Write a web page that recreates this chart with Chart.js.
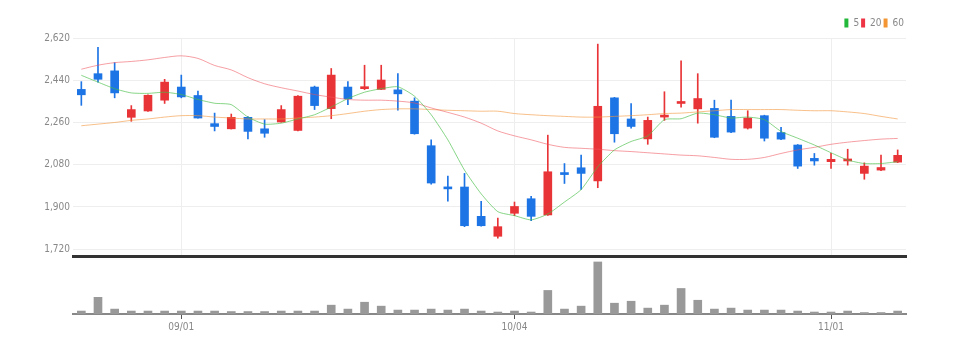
<!DOCTYPE html>
<html>
<head>
<meta charset="utf-8">
<script src="https://cdn.jsdelivr.net/npm/chart.js@4/dist/chart.umd.min.js"></script>
<style>
  html, body { margin: 0; padding: 0; background: #fff; }
  #wrap { position: relative; width: 958px; height: 354px; }
  #pricebox { position: absolute; left: 0; top: 0; width: 958px; height: 265px; }
  #volbox { position: absolute; left: 0; top: 256px; width: 958px; height: 98px; }
</style>
</head>
<body>
<div id="wrap">
  <div id="pricebox"><canvas id="price"></canvas></div>
  <div id="volbox"><canvas id="vol"></canvas></div>
</div>
<script>
// 일자 (2022.08.24 ~ 2022.11.07)
const dates = [
  '08/24', '08/25', '08/26', '08/29', '08/30', '08/31', '09/01', '09/02', '09/05', '09/06',
  '09/07', '09/08', '09/13', '09/14', '09/15', '09/16', '09/19', '09/20', '09/21', '09/22',
  '09/23', '09/26', '09/27', '09/28', '09/29', '09/30', '10/04', '10/05', '10/06', '10/07',
  '10/11', '10/12', '10/13', '10/14', '10/17', '10/18', '10/19', '10/20', '10/21', '10/24',
  '10/25', '10/26', '10/27', '10/28', '10/31', '11/01', '11/02', '11/03', '11/04', '11/07'
];
const tickDates = ['09/01', '10/04', '11/01'];
const yTicks = [1720, 1900, 2080, 2260, 2440, 2620];

const opens = [
  2401, 2468, 2480, 2282, 2309, 2355, 2411, 2375, 2255, 2233,
  2282, 2233, 2262, 2226, 2411, 2319, 2411, 2404, 2401, 2399,
  2351, 2161, 1985, 1985, 1860, 1775, 1873, 1935, 1866, 2044,
  2067, 2011, 2365, 2275, 2190, 2283, 2341, 2318, 2320, 2286,
  2236, 2289, 2217, 2164, 2107, 2093, 2096, 2043, 2057, 2091
];
const highs = [
  2434, 2580, 2515, 2332, 2378, 2444, 2462, 2394, 2300, 2296,
  2285, 2272, 2332, 2375, 2415, 2490, 2434, 2504, 2504, 2468,
  2365, 2186, 2032, 2043, 1924, 1853, 1921, 1945, 2206, 2085,
  2121, 2594, 2367, 2341, 2283, 2391, 2523, 2468, 2355, 2355,
  2310, 2291, 2239, 2166, 2128, 2128, 2146, 2088, 2121, 2143
];
const lows = [
  2333, 2432, 2365, 2265, 2307, 2341, 2365, 2278, 2224, 2232,
  2190, 2197, 2261, 2224, 2315, 2276, 2336, 2400, 2400, 2312,
  2210, 1997, 1925, 1816, 1818, 1767, 1863, 1842, 1864, 2000,
  1975, 1982, 2176, 2236, 2167, 2269, 2325, 2257, 2195, 2217,
  2232, 2181, 2187, 2064, 2078, 2064, 2078, 2018, 2055, 2089
];
const closes = [
  2378, 2444, 2386, 2315, 2376, 2432, 2369, 2279, 2243, 2282,
  2222, 2214, 2315, 2372, 2332, 2462, 2361, 2410, 2441, 2382,
  2212, 2002, 1977, 1820, 1820, 1816, 1902, 1860, 2050, 2038,
  2043, 2329, 2212, 2243, 2269, 2290, 2346, 2362, 2197, 2219,
  2279, 2193, 2189, 2074, 2096, 2103, 2103, 2074, 2068, 2120
];

// 이동평균선
const ma5 = [
  2461, 2432, 2404, 2386, 2384, 2389, 2379, 2358, 2342, 2336,
  2283, 2253, 2257, 2275, 2293, 2326, 2362, 2389, 2404, 2412,
  2372, 2293, 2186, 2057, 1956, 1880, 1863, 1845, 1870, 1921,
  1974, 2071, 2143, 2179, 2203, 2272, 2276, 2300, 2293, 2279,
  2283, 2272, 2222, 2193, 2164, 2131, 2100, 2085, 2085, 2093
];
const ma20 = [
  2487, 2504, 2515, 2520, 2527, 2537, 2544, 2533, 2503, 2484,
  2451, 2425, 2408, 2394, 2379, 2368, 2358, 2355, 2355, 2351,
  2343, 2322, 2303, 2283, 2257, 2224, 2203, 2186, 2167, 2154,
  2150, 2146, 2140, 2136, 2131, 2126, 2121, 2118, 2111, 2103,
  2103, 2111, 2128, 2143, 2154, 2167, 2176, 2183, 2189, 2192
];
const ma60 = [
  2246, 2253, 2260, 2269, 2275, 2283, 2289, 2289, 2283, 2279,
  2275, 2275, 2275, 2279, 2283, 2289, 2298, 2308, 2315, 2318,
  2318, 2315, 2312, 2310, 2308, 2308, 2298, 2293, 2289, 2286,
  2283, 2283, 2286, 2289, 2293, 2298, 2300, 2305, 2310, 2315,
  2315, 2315, 2315, 2312, 2310, 2310, 2305, 2298, 2286, 2275
];

// 거래량 (천주)
const volumes = [
  30, 170, 50, 30, 30, 30, 30, 30, 30, 25,
  25, 25, 30, 30, 30, 90, 50, 120, 80, 40,
  40, 50, 40, 50, 30, 20, 30, 20, 240, 50,
  80, 530, 110, 130, 60, 90, 260, 140, 50, 60,
  40, 40, 40, 30, 20, 20, 30, 15, 15, 30
];

Chart.defaults.font.family = "'Liberation Sans Narrow', 'DejaVu Sans Condensed', 'Liberation Sans', sans-serif";
Chart.defaults.font.size = 10;
Chart.defaults.color = '#888';

const candleColors = closes.map((c, i) => c >= opens[i] ? '#e93437' : '#1c74e5');
const tickIdx = dates.map((d, i) => tickDates.includes(d) ? i : -1).filter(i => i >= 0);

new Chart(document.getElementById('price'), {
    type: 'bar',
    data: {
        labels: dates,
        datasets: [
            { label: 'wick', data: lows.map((l, i) => [l, highs[i]]), backgroundColor: candleColors, barThickness: 1, grouped: false, order: 4 },
            { label: 'body', data: opens.map((o, i) => [o, closes[i]]), backgroundColor: candleColors, barThickness: 8, minBarLength: 2, grouped: false, order: 3 },
            { type: 'line', label: '5', data: ma5, borderColor: 'rgba(70,190,70,0.65)', backgroundColor: '#22b83a', borderWidth: 1, pointRadius: 0, tension: 0.2, fill: false, order: 0 },
            { type: 'line', label: '20', data: ma20, borderColor: 'rgba(238,80,90,0.55)', backgroundColor: '#ee3344', borderWidth: 1, pointRadius: 0, tension: 0.3, fill: false, order: 1 },
            { type: 'line', label: '60', data: ma60, borderColor: 'rgba(243,150,60,0.6)', backgroundColor: '#f39533', borderWidth: 1, pointRadius: 0, tension: 0.3, fill: false, order: 2 }
        ]
    },
    options: {
        responsive: true,
        maintainAspectRatio: false,
        animation: false,
        layout: { padding: { left: 0, right: 52, top: 16, bottom: 3 } },
        plugins: {
            tooltip: { enabled: false },
            legend: {
                position: 'top',
                align: 'end',
                labels: {
                    boxWidth: 4,
                    boxHeight: 9,
                    padding: 2,
                    color: '#888',
                    filter: item => item.datasetIndex >= 2,
                    generateLabels: chart => Chart.defaults.plugins.legend.labels.generateLabels(chart)
                        .map(l => ({ ...l, strokeStyle: l.fillStyle, lineWidth: 0 }))
                }
            }
        },
        scales: {
            x: {
                offset: true,
                grid: {
                    offset: false,
                    drawTicks: false,
                    color: ctx => tickIdx.includes(ctx.index) ? '#eeeeee' : 'rgba(0,0,0,0)'
                },
                ticks: { display: false, autoSkip: false },
                border: { color: '#333', width: 3 }
            },
            y: {
                min: 1691,
                max: 2620,
                afterBuildTicks: s => { s.ticks = yTicks.map(v => ({ value: v })); },
                afterFit: s => { s.width = 73; },
                grid: { color: '#eeeeee', drawTicks: false },
                border: { display: false },
                ticks: { padding: 3, color: '#888', callback: v => v.toLocaleString('en-US') }
            }
        }
    }
});

new Chart(document.getElementById('vol'), {
    type: 'bar',
    data: {
        labels: dates,
        datasets: [{ label: 'volume', data: volumes, backgroundColor: '#999', barThickness: 8 }]
    },
    options: {
        responsive: true,
        maintainAspectRatio: false,
        animation: false,
        layout: { padding: { left: 73, right: 52, top: 4, bottom: 19 } },
        plugins: { legend: { display: false }, tooltip: { enabled: false } },
        scales: {
            x: {
                offset: true,
                grid: {
                    offset: false,
                    drawOnChartArea: false,
                    tickLength: 5,
                    tickColor: ctx => tickIdx.includes(ctx.index) ? '#555' : 'rgba(0,0,0,0)'
                },
                border: { color: '#888', width: 2 },
                ticks: {
                    autoSkip: false,
                    maxRotation: 0,
                    padding: 2,
                    color: '#888',
                    callback: (v, i) => tickDates.includes(dates[i]) ? dates[i] : ''
                }
            },
            y: { display: false, min: 0, max: 550 }
        }
    }
});
</script>
</body>
</html>
